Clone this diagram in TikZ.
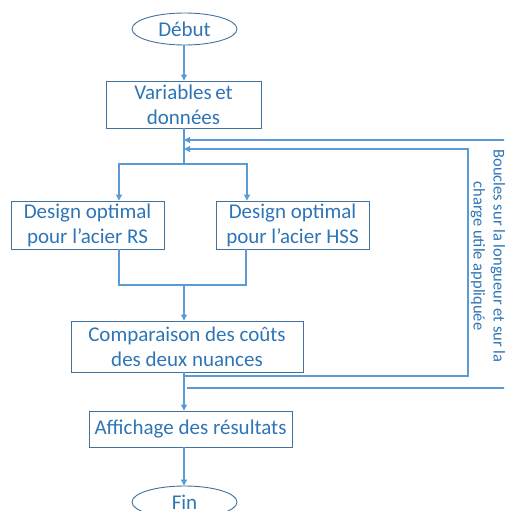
\documentclass[tikz,border=0pt]{standalone}
\usepackage{fontspec}
\setmainfont{Carlito}
\usetikzlibrary{shapes.geometric,arrows.meta}
\definecolor{txtblue}{HTML}{2E75B6}
\definecolor{lineblue}{HTML}{5B9BD5}
\definecolor{boxblue}{HTML}{41719C}
\begin{document}
\begin{tikzpicture}[x=1pt,y=1pt,
  every node/.style={text=txtblue,font=\fontsize{21}{25}\selectfont,inner sep=0pt,align=center},
  procbox/.style={draw=boxblue,line width=0.9pt,rectangle},
  termbox/.style={draw=boxblue,line width=0.9pt,ellipse},
  conn/.style={draw=lineblue,line width=1.1pt},
  arr/.style={conn,-{Triangle[length=6pt,width=6pt]}}]
\useasboundingbox (0,0) rectangle (504,-511);
\clip (0,0) rectangle (504,-511);
\node[termbox,minimum width=105pt,minimum height=32pt] (debut) at (184.5,-29) {Début};
\node[procbox,minimum width=155pt,minimum height=47pt] (vars) at (183.5,-104.5) {Variables\,et\\données};
\node[procbox,minimum width=153pt,minimum height=48pt] (rs) at (87.5,-225) {Design optimal\\pour l’acier RS};
\node[procbox,minimum width=153pt,minimum height=48pt] (hss) at (292.5,-225) {Design optimal\\pour l’acier HSS};
\node[procbox,minimum width=232pt,minimum height=51pt] (comp) at (187,-346.5) {Comparaison des coûts\\des deux nuances};
\node[procbox,minimum width=203pt,minimum height=36pt] (aff) at (190.5,-429) {Affichage des résultats};
\node[termbox,minimum width=105pt,minimum height=32pt] (fin) at (184.5,-502) {Fin};
\node[rotate=-90,font=\fontsize{16.5}{20}\selectfont] (loop) at (488,-256) {Boucles sur la longueur et sur la\\charge utile appliquée};
% coordinates
\coordinate (split) at (184,-164);
\coordinate (merge) at (184,-285);
\coordinate (inA) at (184,-376);
\coordinate (inB) at (468,-376);
\coordinate (inC) at (468,-149);
\coordinate (inD) at (184,-149);
\coordinate (outA) at (187,-388);
\coordinate (outB) at (510,-388);
\coordinate (outC) at (510,-140);
\coordinate (outD) at (184,-140);
% connectors
\draw[arr] (debut.south -| 184,0) -- (vars.north -| 184,0);
\draw[conn] (vars.south -| 184,0) -- (split);
\draw[arr] (split) -- (119,-164) -- (rs.north -| 119,0);
\draw[arr] (split) -- (247,-164) -- (hss.north -| 247,0);
\draw[conn] (rs.south -| 119,0) -- (119,-285) -- (246,-285) -- (hss.south -| 246,0);
\draw[arr] (merge) -- (comp.north -| 184,0);
\draw[arr] (comp.south -| 184,0) -- (aff.north -| 184,0);
\draw[arr] (aff.south -| 184,0) -- (fin.north -| 184,0);
\draw[arr] (inA) -- (inB) -- (inC) -- (inD);
\draw[arr] (outA) -- (outB) -- (outC) -- (outD);
\end{tikzpicture}
\end{document}
